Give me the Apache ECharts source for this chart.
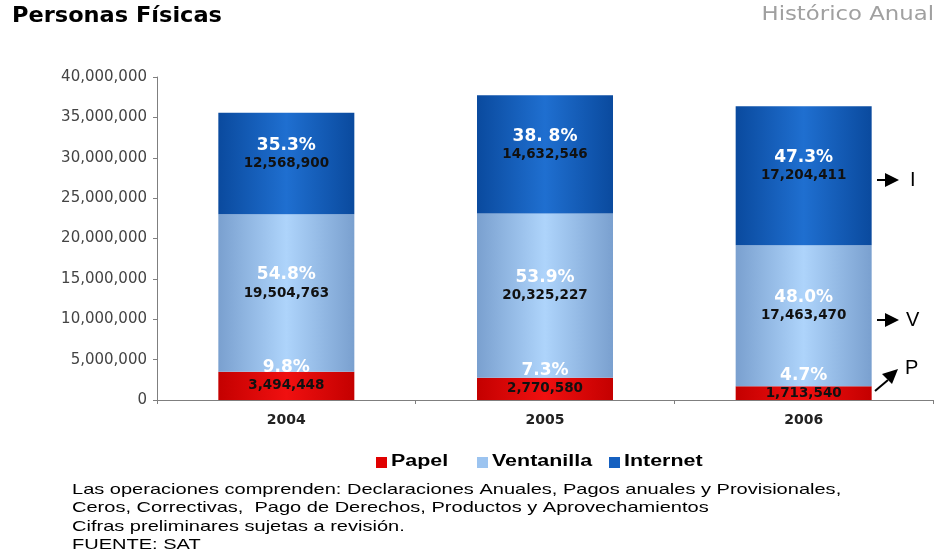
<!DOCTYPE html>
<html>
<head>
<meta charset="utf-8">
<script src="https://cdn.jsdelivr.net/npm/echarts@6/dist/echarts.min.js"></script>
<style>
  html, body { margin: 0; padding: 0; background: #fff; }
  #chart { width: 941px; height: 558px; }
</style>
</head>
<body>
<div id="chart"></div>
<script>
// Operaciones de Personas Físicas por medio de presentación
const years = ['2004', '2005', '2006'];
const seriesNames = ['Papel', 'Ventanilla', 'Internet'];
const papel = [3494448, 2770580, 1713540];
const ventanilla = [19504763, 20325227, 17463470];
const internet = [12568900, 14632546, 17204411];
const papelPct = ['9.8%', '7.3%', '4.7%'];
const ventanillaPct = ['54.8%', '53.9%', '48.0%'];
const internetPct = ['35.3%', '38. 8%', '47.3%'];
const yTicks = [0, 5000000, 10000000, 15000000, 20000000, 25000000, 30000000, 35000000, 40000000];
const notes = [
  'Las operaciones comprenden: Declaraciones Anuales, Pagos anuales y Provisionales,',
  'Ceros, Correctivas,  Pago de Derechos, Productos y Aprovechamientos',
  'Cifras preliminares sujetas a revisión.',
  'FUENTE: SAT'
];

const fmt = n => n.toLocaleString('en-US');
const legendSwatch = { Papel: '#e00000', Ventanilla: '#9cc4f0', Internet: '#1560c0' };

function barGradient(edge, mid) {
  return new echarts.graphic.LinearGradient(0, 0, 1, 0, [
    { offset: 0, color: edge },
    { offset: 0.5, color: mid },
    { offset: 1, color: edge }
  ]);
}

function stackSeries(name, values, pcts, edge, mid) {
  return {
    name: name,
    type: 'bar',
    stack: 'total',
    barWidth: 136,
    itemStyle: { color: barGradient(edge, mid) },
    data: values,
    label: {
      show: true,
      position: 'inside',
      offset: [0, -9],
      formatter: p => '{p|' + pcts[p.dataIndex] + '}\n{v|' + fmt(p.value) + '}',
      rich: {
        p: { color: '#ffffff', fontSize: 17, fontWeight: 'bold', fontFamily: 'DejaVu Sans', lineHeight: 18 },
        v: { color: '#111111', fontSize: 13.5, fontWeight: 'bold', fontFamily: 'DejaVu Sans', lineHeight: 18 }
      }
    }
  };
}

// Text that is stretched horizontally around its anchor point
function wideText(x, y, text, scaleX, style) {
  return {
    type: 'text', x: x, y: y, scaleX: scaleX,
    style: Object.assign({ text: text, x: 0, y: 0, textVerticalAlign: 'top' }, style)
  };
}

const graphics = [
  wideText(12, 6, 'Personas Físicas', 1.07,
    { fontFamily: 'DejaVu Sans', fontWeight: 'bold', fontSize: 21, fill: '#000' }),
  wideText(934, 6, 'Histórico Anual', 1.2,
    { fontFamily: 'DejaVu Sans', fontSize: 19, fill: '#a0a0a0', textAlign: 'right' }),
  // Flechas de referencia I, V, P
  { type: 'line', shape: { x1: 877, y1: 180, x2: 888, y2: 180 }, style: { stroke: '#000', lineWidth: 2 } },
  { type: 'polygon', shape: { points: [[885, 173], [899, 180], [885, 187]] }, style: { fill: '#000' } },
  wideText(910, 170, 'I', 1, { fontFamily: 'Liberation Sans', fontSize: 20, fill: '#000' }),
  { type: 'line', shape: { x1: 877, y1: 320, x2: 888, y2: 320 }, style: { stroke: '#000', lineWidth: 2 } },
  { type: 'polygon', shape: { points: [[885, 313], [899, 320], [885, 327]] }, style: { fill: '#000' } },
  wideText(906, 310, 'V', 1, { fontFamily: 'Liberation Sans', fontSize: 20, fill: '#000' }),
  { type: 'line', shape: { x1: 875, y1: 391, x2: 888, y2: 380 }, style: { stroke: '#000', lineWidth: 2 } },
  { type: 'polygon', shape: { points: [[882, 374], [898, 369], [892, 384]] }, style: { fill: '#000' } },
  wideText(905, 358, 'P', 1, { fontFamily: 'Liberation Sans', fontSize: 20, fill: '#000' })
];

// Leyenda
const legendX = [376, 477, 609];
seriesNames.forEach((name, i) => {
  graphics.push({ type: 'rect', shape: { x: legendX[i], y: 457, width: 11, height: 11 }, style: { fill: legendSwatch[name] } });
  graphics.push(wideText(legendX[i] + 15, 454, name, 1.34,
    { fontFamily: 'Liberation Sans', fontWeight: 'bold', fontSize: 16, fill: '#000' }));
});

// Notas al pie
notes.forEach((line, i) => {
  graphics.push(wideText(72, 482 + i * 18.5, line, 1.335,
    { fontFamily: 'Liberation Sans', fontSize: 15, fill: '#000' }));
});

const chart = echarts.init(document.getElementById('chart'), null, { renderer: 'canvas' });

chart.setOption({
  backgroundColor: '#ffffff',
  animation: false,
  grid: { left: 157, right: 8, top: 77, bottom: 158 },
  xAxis: {
    type: 'category',
    data: years,
    axisLine: { lineStyle: { color: '#7f7f7f', width: 1 } },
    axisTick: { show: true, length: 4, lineStyle: { color: '#7f7f7f' } },
    axisLabel: { fontFamily: 'DejaVu Sans', fontSize: 14, fontWeight: 'bold', color: '#222', margin: 13 }
  },
  yAxis: {
    type: 'value',
    min: yTicks[0],
    max: yTicks[yTicks.length - 1],
    interval: yTicks[1] - yTicks[0],
    axisLine: { show: true, lineStyle: { color: '#7f7f7f', width: 1 } },
    axisTick: { show: true, length: 4, lineStyle: { color: '#7f7f7f' } },
    splitLine: { show: false },
    axisLabel: {
      fontFamily: 'DejaVu Sans', fontSize: 15, color: '#444', margin: 10,
      formatter: v => fmt(v)
    }
  },
  series: [
    stackSeries('Papel', papel, papelPct, '#c40000', '#f01010'),
    stackSeries('Ventanilla', ventanilla, ventanillaPct, '#7aa0cf', '#aed4fb'),
    stackSeries('Internet', internet, internetPct, '#0a4a9e', '#1f6fd0')
  ],
  graphic: graphics
});
</script>
</body>
</html>
